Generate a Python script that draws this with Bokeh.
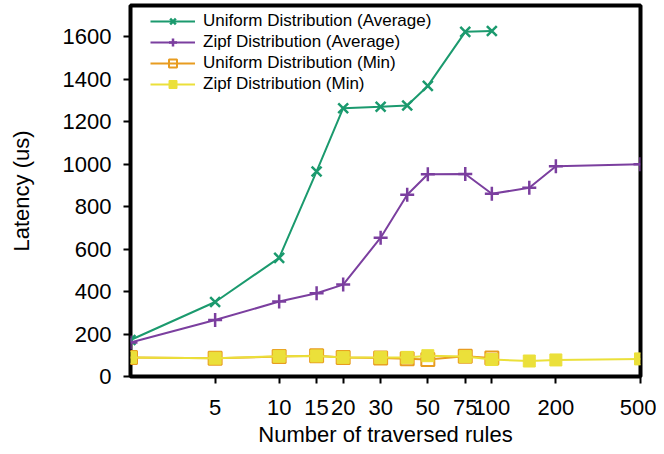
from bokeh.plotting import figure
from bokeh.models import FixedTicker, PrintfTickFormatter, Legend, LegendItem, Range1d
from bokeh.embed import file_html
from bokeh.resources import INLINE

# ---- data ----
x_uniform = [2, 5, 10, 15, 20, 30, 40, 50, 75, 100]
uniform_avg = [172, 351, 559, 966, 1264, 1271, 1277, 1369, 1624, 1628]
uniform_min = [90, 86, 94, 98, 90, 87, 84, 80, 95, 87]

x_zipf = [2, 5, 10, 15, 20, 30, 40, 50, 75, 100, 150, 200, 500]
zipf_avg = [160, 266, 353, 392, 433, 654, 856, 953, 954, 861, 889, 991, 1000]
zipf_min = [90, 86, 95, 97, 90, 89, 90, 98, 94, 80, 73, 78, 83]

x_ticks = [5, 10, 15, 20, 30, 50, 75, 100, 200, 500]
y_ticks = [0, 200, 400, 600, 800, 1000, 1200, 1400, 1600]

labels = ["Uniform Distribution (Average)", "Zipf Distribution (Average)",
          "Uniform Distribution (Min)", "Zipf Distribution (Min)"]

GREEN = "#1b9a6e"
PURPLE = "#7b3f9f"
ORANGE = "#e89c20"
YELLOW = "#ebe03a"
FONT = "Liberation Sans"

p = figure(width=656, height=454, x_axis_type="log",
           x_range=Range1d(2, 500), y_range=Range1d(0, 1748),
           output_backend="svg", toolbar_location=None,
           min_border_left=130, min_border_right=16,
           min_border_top=5, min_border_bottom=78)

p.xgrid.visible = False
p.ygrid.visible = False
p.outline_line_color = "black"
p.outline_line_width = 4
p.background_fill_color = "white"
p.border_fill_color = "white"

p.xaxis.ticker = FixedTicker(ticks=x_ticks)
p.xaxis.formatter = PrintfTickFormatter(format="%d")
p.yaxis.ticker = FixedTicker(ticks=y_ticks)

for ax in (p.xaxis[0], p.yaxis[0]):
    ax.axis_line_color = None
    ax.major_tick_line_color = "black"
    ax.major_tick_line_width = 2
    ax.major_tick_out = 7
    ax.major_tick_in = 0
    ax.minor_tick_line_color = None
    ax.major_label_text_font = FONT
    ax.major_label_text_font_size = "22px"
    ax.major_label_text_color = "black"
    ax.axis_label_text_font = FONT
    ax.axis_label_text_font_size = "22px"
    ax.axis_label_text_font_style = "normal"
    ax.axis_label_text_color = "black"

p.xaxis.axis_label = "Number of traversed rules"
p.yaxis.axis_label = "Latency (us)"
p.xaxis.major_label_standoff = 16
p.xaxis.axis_label_standoff = 4
p.yaxis.major_label_standoff = 12
p.yaxis.axis_label_standoff = 26

lw = 2
l1 = p.line(x_uniform, uniform_avg, color=GREEN, line_width=lw)
m1 = p.scatter(x_uniform, uniform_avg, marker="x", size=14, line_color=GREEN, line_width=2.5)
l2 = p.line(x_zipf, zipf_avg, color=PURPLE, line_width=lw)
m2 = p.scatter(x_zipf, zipf_avg, marker="cross", size=14, line_color=PURPLE, line_width=2.5)
l3 = p.line(x_uniform, uniform_min, color=ORANGE, line_width=lw)
m3 = p.scatter(x_uniform, uniform_min, marker="square", size=13, line_color=ORANGE,
               fill_color=None, line_width=2)
l4 = p.line(x_zipf, zipf_min, color=YELLOW, line_width=lw)
m4 = p.scatter(x_zipf, zipf_min, marker="square", size=12, line_color=YELLOW,
               fill_color=YELLOW, line_width=1)

legend = Legend(items=[
    LegendItem(label=labels[0], renderers=[l1, m1]),
    LegendItem(label=labels[1], renderers=[l2, m2]),
    LegendItem(label=labels[2], renderers=[l3, m3]),
    LegendItem(label=labels[3], renderers=[l4, m4]),
])
legend.background_fill_alpha = 0
legend.border_line_color = None
legend.label_text_font = FONT
legend.label_text_font_size = "17px"
legend.label_text_color = "black"
legend.glyph_width = 45
legend.glyph_height = 20
legend.label_height = 20
legend.spacing = 1
legend.padding = 0
legend.margin = 0
legend.label_standoff = 8
legend.location = (20, 282)
p.add_layout(legend, "center")

open("out.html", "w").write(file_html(p, INLINE))
